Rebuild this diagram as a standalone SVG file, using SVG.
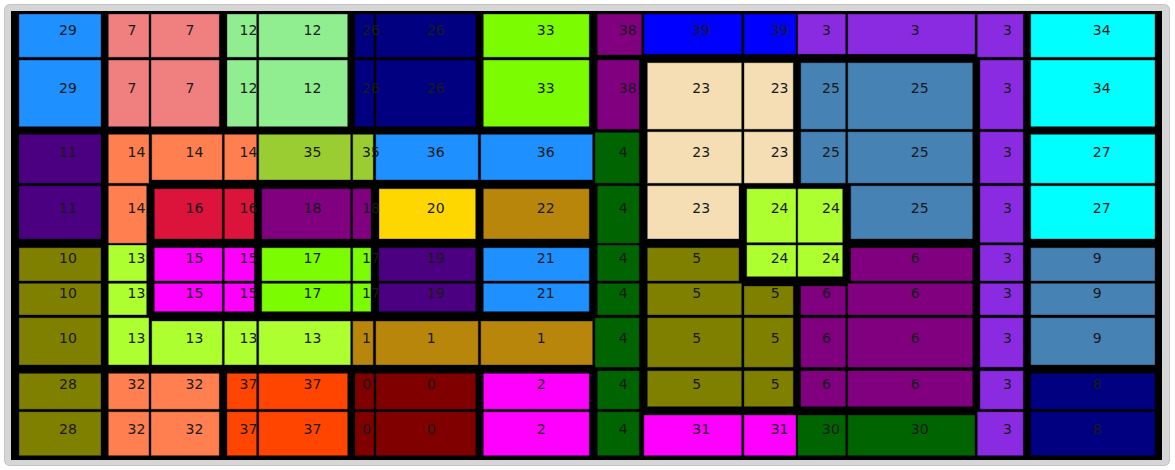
<svg xmlns="http://www.w3.org/2000/svg" width="1175" height="470" viewBox="0 0 1175 470">
<style>
rect.c{stroke:#000;stroke-opacity:0.35;stroke-width:1}
text{font-family:"DejaVu Sans","Liberation Sans",sans-serif;font-size:14px;fill:#1a1a1a}
.i0{fill:#800000}.i1{fill:#B8860B}.i2{fill:#FF00FF}.i3{fill:#8A2BE2}.i4{fill:#006400}
.i5{fill:#808000}.i6{fill:#800080}.i7{fill:#F08080}.i8{fill:#000080}.i9{fill:#4682B4}
.i10{fill:#808000}.i11{fill:#4B0082}.i12{fill:#90EE90}.i13{fill:#ADFF2F}.i14{fill:#FF7F50}
.i15{fill:#FF00FF}.i16{fill:#DC143C}.i17{fill:#7CFC00}.i18{fill:#800080}.i19{fill:#4B0082}
.i20{fill:#FFD700}.i21{fill:#1E90FF}.i22{fill:#B8860B}.i23{fill:#F5DEB3}.i24{fill:#ADFF2F}
.i25{fill:#4682B4}.i26{fill:#000080}.i27{fill:#00FFFF}.i28{fill:#808000}.i29{fill:#1E90FF}
.i30{fill:#006400}.i31{fill:#FF00FF}.i32{fill:#FF7F50}.i33{fill:#7CFC00}.i34{fill:#00FFFF}
.i35{fill:#9ACD32}.i36{fill:#1E90FF}.i37{fill:#FF4500}.i38{fill:#800080}.i39{fill:#0000FF}
</style>
<rect id="frame" x="4.5" y="4.5" width="1165" height="461" rx="5" fill="#d6d6d6" stroke="#c4c4c4"/>
<rect id="board" x="11" y="11" width="1151" height="449" fill="#000"/>
<g id="cells">
<g id="r1c15"><rect class="c i34" x="1030.7" y="14" width="124.3" height="43.3"/><text x="1092.8" y="35.2">34</text></g>
<g id="r1c14"><rect class="c i3" x="977.3" y="14" width="46" height="43.3"/><text x="1002.9" y="35.2">3</text></g>
<g id="r1c13"><rect class="c i3" x="847.7" y="14" width="127.3" height="40.3"/><text x="910.8" y="35.2">3</text></g>
<g id="r1c12"><rect class="c i3" x="797.7" y="14" width="48" height="40.3"/><text x="822" y="35.2">3</text></g>
<g id="r1c11"><rect class="c i39" x="744" y="14" width="52" height="40.3"/><text x="770.7" y="35.2">39</text></g>
<g id="r1c10"><rect class="c i39" x="644" y="14" width="97.7" height="40.3"/><text x="692.3" y="35.2">39</text></g>
<g id="r1c9"><rect class="c i38" x="597.3" y="14" width="44.4" height="41"/><text x="618.8" y="35.2">38</text></g>
<g id="r1c8"><rect class="c i33" x="483.3" y="14" width="106" height="43.3"/><text x="536.8" y="35.2">33</text></g>
<g id="r1c7"><rect class="c i26" x="376" y="14" width="99.7" height="43.3"/><text x="426.8" y="35.2">26</text></g>
<g id="r1c6"><rect class="c i26" x="355" y="14" width="19" height="43.3"/><text x="362" y="35.2">26</text></g>
<g id="r1c5"><rect class="c i12" x="258.7" y="14" width="89" height="43.3"/><text x="303.5" y="35.2">12</text></g>
<g id="r1c4"><rect class="c i12" x="227" y="14" width="29.7" height="43.3"/><text x="239.5" y="35.2">12</text></g>
<g id="r1c3"><rect class="c i7" x="151" y="14" width="68.3" height="43.3"/><text x="185.5" y="35.2">7</text></g>
<g id="r1c2"><rect class="c i7" x="108.3" y="14" width="40.7" height="43.3"/><text x="127.5" y="35.2">7</text></g>
<g id="r1c1"><rect class="c i29" x="19" y="14" width="82" height="43.3"/><text x="59" y="35.2">29</text></g>
<g id="r2c15"><rect class="c i34" x="1030.7" y="60" width="124.3" height="66.7"/><text x="1092.8" y="93.4">34</text></g>
<g id="r2c14"><rect class="c i3" x="980" y="60" width="43.3" height="69.3"/><text x="1002.9" y="93.4">3</text></g>
<g id="r2c13"><rect class="c i25" x="847.7" y="62.7" width="125" height="66.6"/><text x="910.8" y="93.4">25</text></g>
<g id="r2c12"><rect class="c i25" x="800.7" y="62.7" width="45" height="66.6"/><text x="822" y="93.4">25</text></g>
<g id="r2c11"><rect class="c i23" x="744" y="62.7" width="49.3" height="66.6"/><text x="770.7" y="93.4">23</text></g>
<g id="r2c10"><rect class="c i23" x="647.3" y="62.7" width="94.4" height="66.6"/><text x="692.3" y="93.4">23</text></g>
<g id="r2c9"><rect class="c i38" x="597.3" y="60" width="42" height="69.3"/><text x="618.8" y="93.4">38</text></g>
<g id="r2c8"><rect class="c i33" x="483.3" y="60" width="106" height="66.7"/><text x="536.8" y="93.4">33</text></g>
<g id="r2c7"><rect class="c i26" x="376" y="60" width="99.7" height="66.7"/><text x="426.8" y="93.4">26</text></g>
<g id="r2c6"><rect class="c i26" x="355" y="60" width="19" height="66.7"/><text x="362" y="93.4">26</text></g>
<g id="r2c5"><rect class="c i12" x="258.7" y="60" width="89" height="66.7"/><text x="303.5" y="93.4">12</text></g>
<g id="r2c4"><rect class="c i12" x="227" y="60" width="29.7" height="66.7"/><text x="239.5" y="93.4">12</text></g>
<g id="r2c3"><rect class="c i7" x="151" y="60" width="68.3" height="66.7"/><text x="185.5" y="93.4">7</text></g>
<g id="r2c2"><rect class="c i7" x="108.3" y="60" width="40.7" height="66.7"/><text x="127.5" y="93.4">7</text></g>
<g id="r2c1"><rect class="c i29" x="19" y="60" width="82" height="66.7"/><text x="59" y="93.4">29</text></g>
<g id="r3c15"><rect class="c i27" x="1030.7" y="134.3" width="124.3" height="49"/><text x="1092.8" y="157.4">27</text></g>
<g id="r3c14"><rect class="c i3" x="980" y="131.7" width="43.3" height="51.6"/><text x="1002.9" y="157.4">3</text></g>
<g id="r3c13"><rect class="c i25" x="847.7" y="131.7" width="125" height="51.6"/><text x="910.8" y="157.4">25</text></g>
<g id="r3c12"><rect class="c i25" x="800.7" y="131.7" width="45" height="51.6"/><text x="822" y="157.4">25</text></g>
<g id="r3c11"><rect class="c i23" x="744" y="131.7" width="49.3" height="51.6"/><text x="770.7" y="157.4">23</text></g>
<g id="r3c10"><rect class="c i23" x="647.3" y="131.7" width="94.4" height="51.6"/><text x="692.3" y="157.4">23</text></g>
<g id="r3c9"><rect class="c i4" x="595" y="132.3" width="44.3" height="51"/><text x="618.8" y="157.4">4</text></g>
<g id="r3c8"><rect class="c i36" x="480.7" y="134.3" width="112" height="45.7"/><text x="536.8" y="157.4">36</text></g>
<g id="r3c7"><rect class="c i36" x="375.7" y="134.3" width="102.6" height="45.7"/><text x="426.8" y="157.4">36</text></g>
<g id="r3c6"><rect class="c i35" x="352.7" y="134.3" width="20.6" height="45.7"/><text x="362" y="157.4">35</text></g>
<g id="r3c5"><rect class="c i35" x="258.7" y="134.3" width="92" height="45.7"/><text x="303.5" y="157.4">35</text></g>
<g id="r3c4"><rect class="c i14" x="224.3" y="134.3" width="32.4" height="45.7"/><text x="239.5" y="157.4">14</text></g>
<g id="r3c3"><rect class="c i14" x="151.7" y="134.3" width="70.6" height="45.7"/><text x="185.5" y="157.4">14</text></g>
<g id="r3c2"><rect class="c i14" x="108.3" y="134.3" width="40.7" height="49"/><text x="127.5" y="157.4">14</text></g>
<g id="r3c1"><rect class="c i11" x="19" y="134.3" width="82" height="49"/><text x="59" y="157.4">11</text></g>
<g id="r4c15"><rect class="c i27" x="1030.7" y="185.7" width="124.3" height="53.3"/><text x="1092.8" y="213.4">27</text></g>
<g id="r4c14"><rect class="c i3" x="980" y="185.7" width="43.3" height="57"/><text x="1002.9" y="213.4">3</text></g>
<g id="r4c13"><rect class="c i25" x="850.7" y="185.7" width="122" height="53.3"/><text x="910.8" y="213.4">25</text></g>
<g id="r4c12"><rect class="c i24" x="797.7" y="188.7" width="45" height="54"/><text x="822" y="213.4">24</text></g>
<g id="r4c11"><rect class="c i24" x="746.7" y="188.7" width="49.3" height="54"/><text x="770.7" y="213.4">24</text></g>
<g id="r4c10"><rect class="c i23" x="647.3" y="185.7" width="91.7" height="53.3"/><text x="692.3" y="213.4">23</text></g>
<g id="r4c9"><rect class="c i4" x="597.3" y="185.7" width="42" height="57.6"/><text x="618.8" y="213.4">4</text></g>
<g id="r4c8"><rect class="c i22" x="483.3" y="188.7" width="106" height="50.3"/><text x="536.8" y="213.4">22</text></g>
<g id="r4c7"><rect class="c i20" x="379" y="188.7" width="96.7" height="50.3"/><text x="426.8" y="213.4">20</text></g>
<g id="r4c6"><rect class="c i18" x="352.7" y="188.7" width="18.3" height="50.3"/><text x="362" y="213.4">18</text></g>
<g id="r4c5"><rect class="c i18" x="261.7" y="188.7" width="89" height="50.3"/><text x="303.5" y="213.4">18</text></g>
<g id="r4c4"><rect class="c i16" x="224.3" y="188.7" width="30" height="50.3"/><text x="239.5" y="213.4">16</text></g>
<g id="r4c3"><rect class="c i16" x="154.3" y="188.7" width="68" height="50.3"/><text x="185.5" y="213.4">16</text></g>
<g id="r4c2"><rect class="c i14" x="108.3" y="185.7" width="38.4" height="57.6"/><text x="127.5" y="213.4">14</text></g>
<g id="r4c1"><rect class="c i11" x="19" y="185.7" width="82" height="53.3"/><text x="59" y="213.4">11</text></g>
<g id="r5c15"><rect class="c i9" x="1030.7" y="247.7" width="124.3" height="33.3"/><text x="1092.8" y="263.4">9</text></g>
<g id="r5c14"><rect class="c i3" x="980" y="245" width="43.3" height="36"/><text x="1002.9" y="263.4">3</text></g>
<g id="r5c13"><rect class="c i6" x="850.7" y="247.7" width="122" height="33.3"/><text x="910.8" y="263.4">6</text></g>
<g id="r5c12"><rect class="c i24" x="797.7" y="245" width="45" height="31.7"/><text x="822" y="263.4">24</text></g>
<g id="r5c11"><rect class="c i24" x="746.7" y="245" width="49.3" height="31.7"/><text x="770.7" y="263.4">24</text></g>
<g id="r5c10"><rect class="c i5" x="647.3" y="247.7" width="91.7" height="33.3"/><text x="692.3" y="263.4">5</text></g>
<g id="r5c9"><rect class="c i4" x="597.3" y="245" width="42" height="36"/><text x="618.8" y="263.4">4</text></g>
<g id="r5c8"><rect class="c i21" x="483.3" y="247.7" width="106" height="33.3"/><text x="536.8" y="263.4">21</text></g>
<g id="r5c7"><rect class="c i19" x="379" y="247.7" width="96.7" height="33.3"/><text x="426.8" y="263.4">19</text></g>
<g id="r5c6"><rect class="c i17" x="352.7" y="247.7" width="18.3" height="33.3"/><text x="362" y="263.4">17</text></g>
<g id="r5c5"><rect class="c i17" x="261.7" y="247.7" width="89" height="33.3"/><text x="303.5" y="263.4">17</text></g>
<g id="r5c4"><rect class="c i15" x="224.3" y="247.7" width="30" height="33.3"/><text x="239.5" y="263.4">15</text></g>
<g id="r5c3"><rect class="c i15" x="154.3" y="247.7" width="68" height="33.3"/><text x="185.5" y="263.4">15</text></g>
<g id="r5c2"><rect class="c i13" x="108.3" y="245" width="38.4" height="36"/><text x="127.5" y="263.4">13</text></g>
<g id="r5c1"><rect class="c i10" x="19" y="247.7" width="82" height="33.3"/><text x="59" y="263.4">10</text></g>
<g id="r6c15"><rect class="c i9" x="1030.7" y="283.3" width="124.3" height="31.7"/><text x="1092.8" y="298.4">9</text></g>
<g id="r6c14"><rect class="c i3" x="980" y="283.3" width="43.3" height="31.7"/><text x="1002.9" y="298.4">3</text></g>
<g id="r6c13"><rect class="c i6" x="847.7" y="283.3" width="125" height="31.7"/><text x="910.8" y="298.4">6</text></g>
<g id="r6c12"><rect class="c i6" x="800.7" y="286" width="45" height="29"/><text x="822" y="298.4">6</text></g>
<g id="r6c11"><rect class="c i5" x="744" y="286" width="49.3" height="29"/><text x="770.7" y="298.4">5</text></g>
<g id="r6c10"><rect class="c i5" x="647.3" y="283.3" width="94.4" height="31.7"/><text x="692.3" y="298.4">5</text></g>
<g id="r6c9"><rect class="c i4" x="597.3" y="283.3" width="42" height="31.7"/><text x="618.8" y="298.4">4</text></g>
<g id="r6c8"><rect class="c i21" x="483.3" y="283.3" width="106" height="28.4"/><text x="536.8" y="298.4">21</text></g>
<g id="r6c7"><rect class="c i19" x="379" y="283.3" width="96.7" height="28.4"/><text x="426.8" y="298.4">19</text></g>
<g id="r6c6"><rect class="c i17" x="352.7" y="283.3" width="18.3" height="28.4"/><text x="362" y="298.4">17</text></g>
<g id="r6c5"><rect class="c i17" x="261.7" y="283.3" width="89" height="28.4"/><text x="303.5" y="298.4">17</text></g>
<g id="r6c4"><rect class="c i15" x="224.3" y="283.3" width="30" height="28.4"/><text x="239.5" y="298.4">15</text></g>
<g id="r6c3"><rect class="c i15" x="154.3" y="283.3" width="68" height="28.4"/><text x="185.5" y="298.4">15</text></g>
<g id="r6c2"><rect class="c i13" x="108.3" y="283.3" width="38.4" height="31.7"/><text x="127.5" y="298.4">13</text></g>
<g id="r6c1"><rect class="c i10" x="19" y="283.3" width="82" height="31.7"/><text x="59" y="298.4">10</text></g>
<g id="r7c15"><rect class="c i9" x="1030.7" y="317.7" width="124.3" height="47.3"/><text x="1092.8" y="342.8">9</text></g>
<g id="r7c14"><rect class="c i3" x="980" y="317.7" width="43.3" height="49.6"/><text x="1002.9" y="342.8">3</text></g>
<g id="r7c13"><rect class="c i6" x="847.7" y="317.7" width="125" height="49.6"/><text x="910.8" y="342.8">6</text></g>
<g id="r7c12"><rect class="c i6" x="800.7" y="317.7" width="45" height="49.6"/><text x="822" y="342.8">6</text></g>
<g id="r7c11"><rect class="c i5" x="744" y="317.7" width="49.3" height="49.6"/><text x="770.7" y="342.8">5</text></g>
<g id="r7c10"><rect class="c i5" x="647.3" y="317.7" width="94.4" height="49.6"/><text x="692.3" y="342.8">5</text></g>
<g id="r7c9"><rect class="c i4" x="595" y="317.7" width="44.3" height="49.6"/><text x="618.8" y="342.8">4</text></g>
<g id="r7c8"><rect class="c i1" x="480.7" y="321" width="112" height="44"/><text x="536.8" y="342.8">1</text></g>
<g id="r7c7"><rect class="c i1" x="375.7" y="321" width="102.6" height="44"/><text x="426.8" y="342.8">1</text></g>
<g id="r7c6"><rect class="c i1" x="352.7" y="321" width="20.6" height="44"/><text x="362" y="342.8">1</text></g>
<g id="r7c5"><rect class="c i13" x="258.7" y="321" width="92" height="44"/><text x="303.5" y="342.8">13</text></g>
<g id="r7c4"><rect class="c i13" x="224.3" y="321" width="32.4" height="44"/><text x="239.5" y="342.8">13</text></g>
<g id="r7c3"><rect class="c i13" x="151.7" y="321" width="70.6" height="44"/><text x="185.5" y="342.8">13</text></g>
<g id="r7c2"><rect class="c i13" x="108.3" y="317.7" width="40.7" height="47.3"/><text x="127.5" y="342.8">13</text></g>
<g id="r7c1"><rect class="c i10" x="19" y="317.7" width="82" height="47.3"/><text x="59" y="342.8">10</text></g>
<g id="r8c15"><rect class="c i8" x="1030.7" y="373.3" width="124.3" height="36"/><text x="1092.8" y="389.4">8</text></g>
<g id="r8c14"><rect class="c i3" x="980" y="370.7" width="43.3" height="38.6"/><text x="1002.9" y="389.4">3</text></g>
<g id="r8c13"><rect class="c i6" x="847.7" y="370.7" width="125" height="36"/><text x="910.8" y="389.4">6</text></g>
<g id="r8c12"><rect class="c i6" x="800.7" y="370.7" width="45" height="36"/><text x="822" y="389.4">6</text></g>
<g id="r8c11"><rect class="c i5" x="744" y="370.7" width="49.3" height="36"/><text x="770.7" y="389.4">5</text></g>
<g id="r8c10"><rect class="c i5" x="647.3" y="370.7" width="94.4" height="36"/><text x="692.3" y="389.4">5</text></g>
<g id="r8c9"><rect class="c i4" x="597.3" y="370.7" width="42" height="38.6"/><text x="618.8" y="389.4">4</text></g>
<g id="r8c8"><rect class="c i2" x="483.3" y="373.3" width="106" height="36"/><text x="536.8" y="389.4">2</text></g>
<g id="r8c7"><rect class="c i0" x="376" y="373.3" width="99.7" height="36"/><text x="426.8" y="389.4">0</text></g>
<g id="r8c6"><rect class="c i0" x="355" y="373.3" width="19" height="36"/><text x="362" y="389.4">0</text></g>
<g id="r8c5"><rect class="c i37" x="258.7" y="373.3" width="89" height="36"/><text x="303.5" y="389.4">37</text></g>
<g id="r8c4"><rect class="c i37" x="227" y="373.3" width="29.7" height="36"/><text x="239.5" y="389.4">37</text></g>
<g id="r8c3"><rect class="c i32" x="151" y="373.3" width="68.3" height="36"/><text x="185.5" y="389.4">32</text></g>
<g id="r8c2"><rect class="c i32" x="108.3" y="373.3" width="40.7" height="36"/><text x="127.5" y="389.4">32</text></g>
<g id="r8c1"><rect class="c i28" x="19" y="373.3" width="82" height="36"/><text x="59" y="389.4">28</text></g>
<g id="r9c15"><rect class="c i8" x="1030.7" y="411.7" width="124.3" height="44"/><text x="1092.8" y="434.4">8</text></g>
<g id="r9c14"><rect class="c i3" x="977.3" y="411.7" width="46" height="44"/><text x="1002.9" y="434.4">3</text></g>
<g id="r9c13"><rect class="c i30" x="847.7" y="415" width="127.3" height="40.7"/><text x="910.8" y="434.4">30</text></g>
<g id="r9c12"><rect class="c i30" x="797.7" y="415" width="48" height="40.7"/><text x="822" y="434.4">30</text></g>
<g id="r9c11"><rect class="c i31" x="744" y="415" width="52" height="40.7"/><text x="770.7" y="434.4">31</text></g>
<g id="r9c10"><rect class="c i31" x="644" y="415" width="97.7" height="40.7"/><text x="692.3" y="434.4">31</text></g>
<g id="r9c9"><rect class="c i4" x="597.3" y="411.7" width="42" height="44"/><text x="618.8" y="434.4">4</text></g>
<g id="r9c8"><rect class="c i2" x="483.3" y="411.7" width="106" height="44"/><text x="536.8" y="434.4">2</text></g>
<g id="r9c7"><rect class="c i0" x="376" y="411.7" width="99.7" height="44"/><text x="426.8" y="434.4">0</text></g>
<g id="r9c6"><rect class="c i0" x="355" y="411.7" width="19" height="44"/><text x="362" y="434.4">0</text></g>
<g id="r9c5"><rect class="c i37" x="258.7" y="411.7" width="89" height="44"/><text x="303.5" y="434.4">37</text></g>
<g id="r9c4"><rect class="c i37" x="227" y="411.7" width="29.7" height="44"/><text x="239.5" y="434.4">37</text></g>
<g id="r9c3"><rect class="c i32" x="151" y="411.7" width="68.3" height="44"/><text x="185.5" y="434.4">32</text></g>
<g id="r9c2"><rect class="c i32" x="108.3" y="411.7" width="40.7" height="44"/><text x="127.5" y="434.4">32</text></g>
<g id="r9c1"><rect class="c i28" x="19" y="411.7" width="82" height="44"/><text x="59" y="434.4">28</text></g>
</g>
<g id="connectors"/>
</svg>
